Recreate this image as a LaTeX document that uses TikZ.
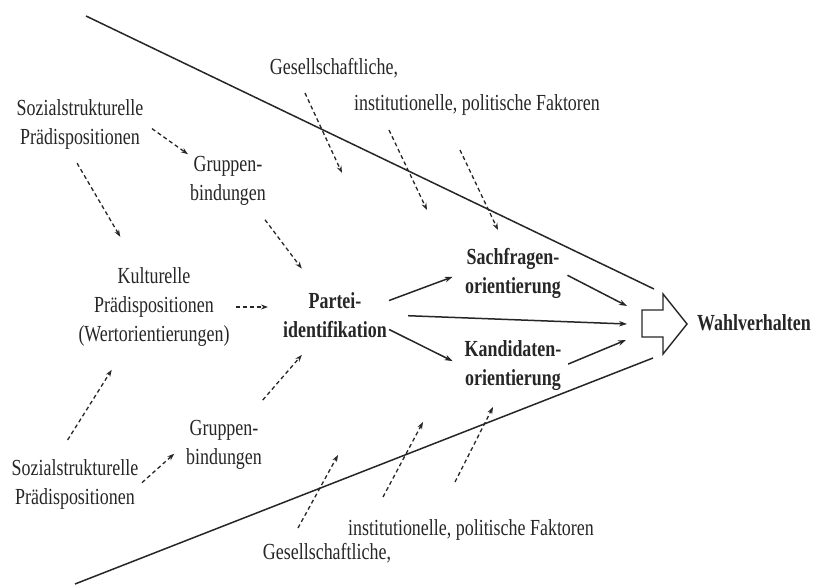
\documentclass[tikz,border=0pt]{standalone}
\usepackage{fontspec}
\setmainfont{Liberation Serif}[FakeStretch=0.78]
\usepackage{tikz}
\usetikzlibrary{arrows.meta}
\definecolor{ink}{gray}{0.15}

\begin{document}
\begin{tikzpicture}[x=1pt, y=-1pt, >={Stealth[length=8pt,width=5.5pt]},
  txt/.style={align=center, inner sep=2pt, text=ink, font=\fontsize{23}{29}\selectfont},
  boldtxt/.style={txt, font=\fontsize{23}{29}\selectfont\bfseries},
  dasharr/.style={-{Stealth[length=7pt,width=5pt]}, ink, line width=1.3pt, dash pattern=on 4pt off 3pt},
  solarr/.style={->, ink, line width=1.5pt}]
\useasboundingbox (0,0) rectangle (814,586);
% --- funnel ---
\draw[ink, line width=1.5pt] (86,16) -- (654,289);
\draw[ink, line width=1.5pt] (75,584) -- (653,358);
% --- nodes ---
\node[txt] (sozA) at (80,124) {Sozialstrukturelle\\Prädispositionen};
\node[txt] (grpA) at (228,181) {Gruppen-\\bindungen};
\node[txt] (kult) at (154,307) {Kulturelle\\Prädispositionen\\(Wertorientierungen)};
\node[boldtxt] (partei) at (335,315) {Partei-\\identifikation};
\node[boldtxt] (sach) at (513,273) {Sachfragen-\\orientierung};
\node[boldtxt] (kand) at (513,366) {Kandidaten-\\orientierung};
\node[boldtxt] (wahl) at (754,323) {Wahlverhalten};
\node[txt] (grpB) at (224,445) {Gruppen-\\bindungen};
\node[txt] (sozB) at (75,484) {Sozialstrukturelle\\Prädispositionen};
\node[txt] (gesA) at (334,68) {Gesellschaftliche,};
\node[txt] (instA) at (477,105) {institutionelle, politische Faktoren};
\node[txt] (instB) at (471,530) {institutionelle, politische Faktoren};
\node[txt] (gesB) at (327,553) {Gesellschaftliche,};
% --- block arrow ---
\draw[ink, line width=1.4pt, fill=white] (642,310) -- (663,310) -- (663,294) -- (687,324)
  -- (663,354) -- (663,337) -- (642,337) -- cycle;
\coordinate (in1) at (627,306);
\coordinate (in2) at (627,324);
\coordinate (in3) at (626,340);
% --- solid arrows ---
\draw[solarr, shorten >=11pt] (partei.15) -- (sach.west);
\draw[solarr, shorten <=19pt] (partei.east) -- (in2);
\draw[solarr, shorten >=11pt] (partei.-15) -- (kand.west);
\draw[solarr, shorten <=5pt] (sach.east) -- (in1);
\draw[solarr, shorten <=5pt] (kand.east) -- (in3);
% --- dashed arrows ---
\draw[dasharr, shorten <=8pt] (sozA.east) -- (grpA.north west);
\draw[dasharr, shorten <=14pt, shorten >=33pt] ([xshift=-10pt]sozA.south) -- ([xshift=-17pt]kult.north);
\draw[dasharr, shorten <=15pt, shorten >=27pt] ([xshift=28pt]grpA.south) -- ([xshift=-17pt]partei.north);
\draw[dasharr, shorten <=4pt, shorten >=13pt] (kult) -- (kult -| partei.west);
\draw[dasharr, shorten <=20pt, shorten >=25pt] ([xshift=-18pt]sozB.north) -- ([xshift=-29pt]kult.south);
\draw[dasharr, shorten <=24pt, shorten >=20pt] ([xshift=23pt]grpB.north) -- ([xshift=-20pt]partei.south);
\draw[dasharr, shorten <=2pt, shorten >=13pt] (sozB.east) -- (grpB.west);
% --- outside factors ---
\foreach \n/\xa/\ya/\xb/\yb in {1/305/93/342/173, 2/389/130/427/210, 3/460/150/498/230} {
  \coordinate (ta\n) at (\xa,\ya);
  \coordinate (tb\n) at (\xb,\yb);
  \draw[dasharr] (ta\n) -- (tb\n); }
\foreach \n/\xa/\ya/\xb/\yb in {1/298/528/338/455, 2/383/497/423/422, 3/455/482/493/407} {
  \coordinate (ba\n) at (\xa,\ya);
  \coordinate (bb\n) at (\xb,\yb);
  \draw[dasharr] (ba\n) -- (bb\n); }
\end{tikzpicture}
\end{document}
